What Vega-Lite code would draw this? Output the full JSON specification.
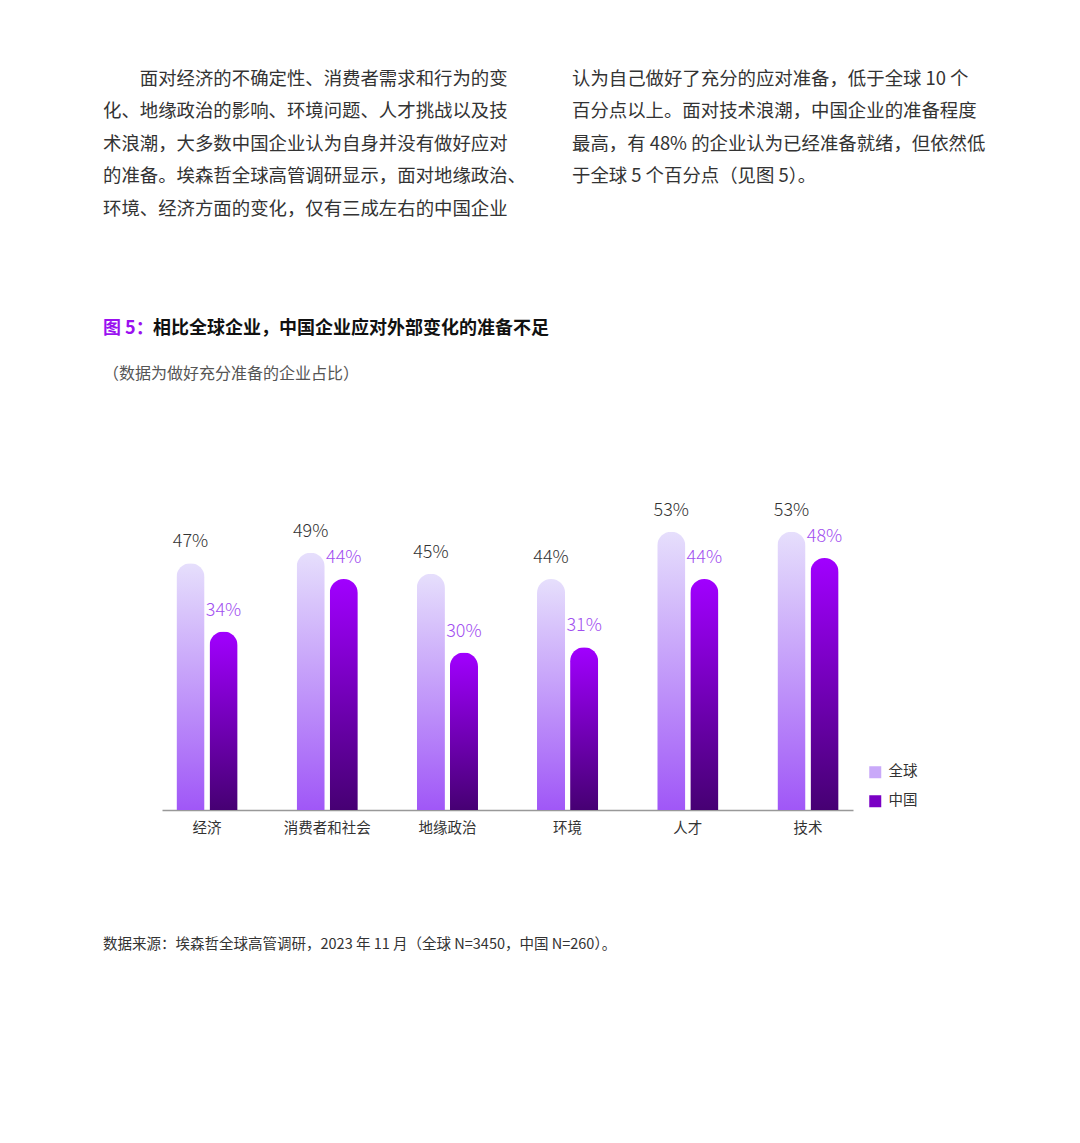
{
  "$schema": "https://vega.github.io/schema/vega-lite/v6.json",
  "background": "white",
  "padding": {"left": 103, "top": 69, "right": 0, "bottom": 0},
  "title": {
    "text": "数据来源：埃森哲全球高管调研，2023 年 11 月（全球 N=3450，中国 N=260）。",
    "orient": "bottom",
    "anchor": "start",
    "frame": "bounds",
    "fontSize": 14.5,
    "fontWeight": "normal",
    "color": "#333333",
    "offset": 103
  },
  "spacing": 17,
  "vconcat": [
    {
      "spacing": 10,
      "hconcat": [
        {
          "width": 400,
          "height": 84,
          "data": {"values": [{}]},
          "mark": {"type": "text", "text": ""},
          "encoding": {},
          "title": {
            "text": [
              "\u200b\u3000\u3000面对经济的不确定性、消费者需求和行为的变",
              "化、地缘政治的影响、环境问题、人才挑战以及技",
              "术浪潮，大多数中国企业认为自身并没有做好应对",
              "的准备。埃森哲全球高管调研显示，面对地缘政治、",
              "环境、经济方面的变化，仅有三成左右的中国企业"
            ],
            "anchor": "start",
            "dx": -59,
            "fontSize": 18.4,
            "fontWeight": "normal",
            "lineHeight": 32.5,
            "color": "#333333",
            "offset": 0
          }
        },
        {
          "width": 400,
          "height": 84,
          "data": {"values": [{}]},
          "mark": {"type": "text", "text": ""},
          "encoding": {},
          "title": {
            "text": [
              "认为自己做好了充分的应对准备，低于全球 10 个",
              "百分点以上。面对技术浪潮，中国企业的准备程度",
              "最高，有 48% 的企业认为已经准备就绪，但依然低",
              "于全球 5 个百分点（见图 5）。",
              " "
            ],
            "anchor": "start",
            "fontSize": 18.4,
            "fontWeight": "normal",
            "lineHeight": 32.5,
            "color": "#333333",
            "offset": 0
          }
        }
      ]
    },
    {
      "bounds": "flush",
      "spacing": 49,
      "hconcat": [
        {
          "width": 1,
          "height": 1,
          "data": {"values": [{}]},
          "mark": {"type": "text", "text": ""},
          "encoding": {},
          "title": {
            "text": "图 5：",
            "anchor": "start",
            "dx": -59,
            "fontSize": 18,
            "fontWeight": "bold",
            "color": "#9a10f0",
            "offset": 0
          }
        },
        {
          "width": 1,
          "height": 1,
          "data": {"values": [{}]},
          "mark": {"type": "text", "text": ""},
          "encoding": {},
          "title": {
            "text": "相比全球企业，中国企业应对外部变化的准备不足",
            "anchor": "start",
            "dx": -59,
            "fontSize": 18,
            "fontWeight": "bold",
            "color": "#111111",
            "offset": 0
          }
        }
      ]
    },
    {
      "width": 691,
      "height": 315,
      "title": {
        "text": "（数据为做好充分准备的企业占比）",
        "anchor": "start",
        "frame": "bounds",
        "fontSize": 16,
        "fontWeight": "normal",
        "color": "#555555",
        "offset": 113
      },
      "data": {
        "values": [
          {"topic": "经济", "series": "全球", "value": 0.47},
          {"topic": "经济", "series": "中国", "value": 0.34},
          {"topic": "消费者和社会", "series": "全球", "value": 0.49},
          {"topic": "消费者和社会", "series": "中国", "value": 0.44},
          {"topic": "地缘政治", "series": "全球", "value": 0.45},
          {"topic": "地缘政治", "series": "中国", "value": 0.30},
          {"topic": "环境", "series": "全球", "value": 0.44},
          {"topic": "环境", "series": "中国", "value": 0.31},
          {"topic": "人才", "series": "全球", "value": 0.53},
          {"topic": "人才", "series": "中国", "value": 0.44},
          {"topic": "技术", "series": "全球", "value": 0.53},
          {"topic": "技术", "series": "中国", "value": 0.48}
        ]
      },
      "encoding": {
        "x": {
          "field": "topic",
          "type": "nominal",
          "sort": ["经济", "消费者和社会", "地缘政治", "环境", "人才", "技术"],
          "scale": {"paddingInner": 0.491, "paddingOuter": 0.12},
          "axis": {
            "title": null,
            "labelAngle": 0,
            "ticks": false,
            "domainColor": "#999999",
            "domainWidth": 1.5,
            "labelFontSize": 14.5,
            "labelColor": "#333333",
            "labelPadding": 11.5
          }
        },
        "xOffset": {
          "field": "series",
          "type": "nominal",
          "sort": ["全球", "中国"],
          "scale": {"paddingInner": 0.15}
        },
        "y": {
          "field": "value",
          "type": "quantitative",
          "scale": {"domain": [0, 0.6]},
          "axis": {
            "labels": false,
            "ticks": false,
            "domain": false,
            "grid": false,
            "title": null,
            "minExtent": 59,
            "maxExtent": 59
          }
        }
      },
      "layer": [
        {
          "mark": {"type": "bar", "cornerRadiusTopLeft": 14, "cornerRadiusTopRight": 14},
          "encoding": {
            "color": {
              "condition": {
                "test": "datum.series === '全球'",
                "value": {
                  "gradient": "linear",
                  "x1": 0, "y1": 0, "x2": 0, "y2": 1,
                  "stops": [
                    {"offset": 0, "color": "#e6dffc"},
                    {"offset": 1, "color": "#a057f7"}
                  ]
                }
              },
              "value": {
                "gradient": "linear",
                "x1": 0, "y1": 0, "x2": 0, "y2": 1,
                "stops": [
                  {"offset": 0, "color": "#a100ff"},
                  {"offset": 1, "color": "#460073"}
                ]
              }
            }
          }
        },
        {
          "transform": [{"filter": "false"}],
          "mark": {"type": "bar"},
          "encoding": {
            "color": {
              "field": "series",
              "type": "nominal",
              "scale": {"domain": ["全球", "中国"], "range": ["#c9a9f9", "#7a00c4"]},
              "legend": {
                "title": null,
                "orient": "none",
                "legendX": 706,
                "legendY": 547,
                "symbolType": "square",
                "symbolSize": 144,
                "symbolStrokeWidth": 0,
                "labelFontSize": 14.5,
                "labelColor": "#333333",
                "rowPadding": 14,
                "labelOffset": 6
              }
            }
          }
        },
        {
          "mark": {"type": "text", "baseline": "bottom", "dy": -12, "fontSize": 18, "fontWeight": 300},
          "encoding": {
            "text": {"field": "value", "type": "quantitative", "format": ".0%"},
            "fill": {
              "field": "series",
              "type": "nominal",
              "scale": {"domain": ["全球", "中国"], "range": ["#333333", "#a24ff0"]},
              "legend": null
            }
          }
        }
      ]
    }
  ],
  "config": {
    "font": "Noto Sans CJK SC",
    "view": {"stroke": null}
  }
}
